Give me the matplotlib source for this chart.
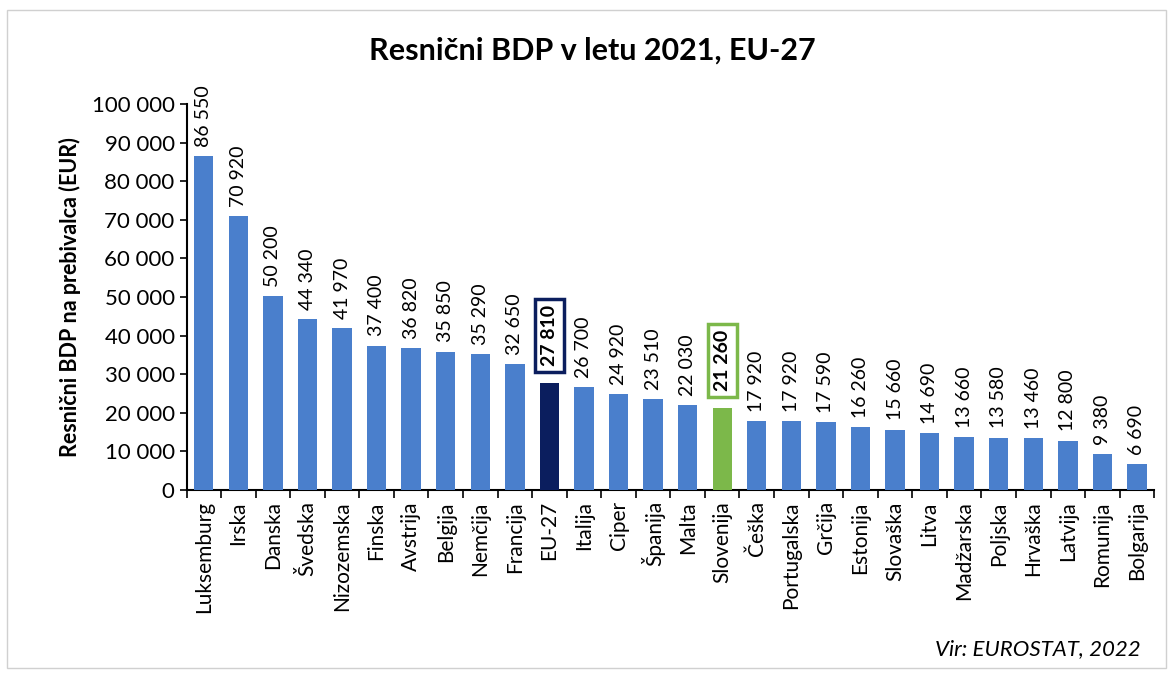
import matplotlib.pyplot as plt
import numpy as np
from matplotlib.ticker import FuncFormatter
from matplotlib.patches import Rectangle

plt.rcParams['font.family'] = ['Lato', 'DejaVu Sans']

countries = ["Luksemburg", "Irska", "Danska", "Švedska", "Nizozemska", "Finska",
             "Avstrija", "Belgija", "Nemčija", "Francija", "EU-27", "Italija",
             "Ciper", "Španija", "Malta", "Slovenija", "Češka", "Portugalska",
             "Grčija", "Estonija", "Slovaška", "Litva", "Madžarska", "Poljska",
             "Hrvaška", "Latvija", "Romunija", "Bolgarija"]
gdp = [86550, 70920, 50200, 44340, 41970, 37400, 36820, 35850, 35290, 32650,
       27810, 26700, 24920, 23510, 22030, 21260, 17920, 17920, 17590, 16260,
       15660, 14690, 13660, 13580, 13460, 12800, 9380, 6690]

BLUE = '#4a7fcc'
NAVY = '#0b1e5e'
GREEN = '#7cb84a'


def fmt(v):
    return f"{int(v):,}".replace(",", " ")


colors = []
for c in countries:
    if c == "EU-27":
        colors.append(NAVY)
    elif c == "Slovenija":
        colors.append(GREEN)
    else:
        colors.append(BLUE)

fig = plt.figure(figsize=(11.73, 6.75), dpi=100)
ax = fig.add_axes([0.159, 0.274, 0.825, 0.572])

ind = np.arange(len(countries))
ax.bar(ind, gdp, 0.56, color=colors, zorder=3)

for i, v in enumerate(gdp):
    if countries[i] == "EU-27":
        ax.text(i, v + 4300, fmt(v), rotation=90, ha='center', va='bottom',
                fontsize=14, fontweight='bold',
                bbox=dict(boxstyle='square,pad=0.3', fc='white', ec=NAVY, lw=2.5))
    elif countries[i] == "Slovenija":
        ax.text(i, v + 4300, fmt(v), rotation=90, ha='center', va='bottom',
                fontsize=14, fontweight='bold',
                bbox=dict(boxstyle='square,pad=0.3', fc='white', ec=GREEN, lw=2.5))
    else:
        ax.text(i, v + 2400, fmt(v), rotation=90, ha='center', va='bottom',
                fontsize=14)

ax.set_xlim(-0.5, len(countries) - 0.5)
ax.set_ylim(0, 100000)
ax.set_yticks(np.arange(0, 100001, 10000))
ax.yaxis.set_major_formatter(FuncFormatter(lambda v, p: fmt(v)))
ax.tick_params(axis='y', labelsize=16, length=5, width=1.2)

ax.set_xticks(ind)
ax.set_xticklabels(countries, rotation=90, fontsize=15)
ax.set_xticks(np.arange(-0.5, len(countries), 1), minor=True)
ax.tick_params(axis='x', which='major', length=0, pad=8)
ax.tick_params(axis='x', which='minor', length=6, width=1.2)

for s in ['top', 'right']:
    ax.spines[s].set_visible(False)
ax.spines['left'].set_linewidth(1.5)
ax.spines['bottom'].set_linewidth(1.5)

ax.set_ylabel('Resnični BDP na prebivalca (EUR)', fontsize=15.5, fontweight='bold',
              labelpad=8)
fig.text(0.505, 0.925, 'Resnični BDP v letu 2021, EU-27', ha='center', va='center',
         fontsize=22, fontweight='bold')
fig.text(0.972, 0.038, 'Vir: EUROSTAT, 2022', ha='right', va='center',
         fontsize=16, style='italic')

fig.patches.append(Rectangle((0.006, 0.01), 0.988, 0.975, transform=fig.transFigure,
                             fill=False, ec='#d0d0d0', lw=1))

plt.savefig("out.png")
